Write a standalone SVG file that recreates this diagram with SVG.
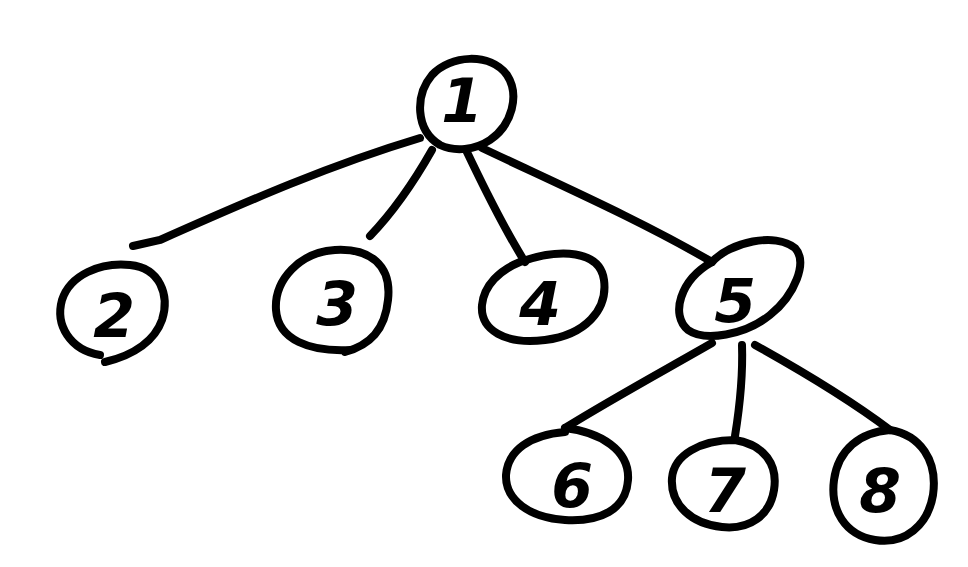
<svg xmlns="http://www.w3.org/2000/svg" width="968" height="567" viewBox="0 0 968 567">
<style>
.n{fill:none;stroke:#000;stroke-width:8;stroke-linecap:round;stroke-linejoin:round}
.e{fill:none;stroke:#000;stroke-width:8;stroke-linecap:round}
.t{font-family:"DejaVu Sans","Liberation Sans",sans-serif;font-size:60px;font-weight:bold;fill:#000;text-anchor:middle;font-style:italic}
</style>
<rect width="968" height="567" fill="#fff"/>
<g id="connectors">
<path class="e" d="M420,138 C330,165 250,200 160,240 L133,246"/>
<path class="e" d="M432,150 C415,180 395,210 370,236"/>
<path class="e" d="M466,150 C485,190 505,230 525,262"/>
<path class="e" d="M482,148 C560,185 640,220 712,262"/>
<path class="e" d="M712,343 C665,370 610,400 565,428"/>
<path class="e" d="M742,345 C743,375 740,405 735,436"/>
<path class="e" d="M755,345 C800,370 850,400 890,430"/>
</g>
<g id="node1">
<path class="n" d="M440,145 C415,130 415,95 432,75 C450,55 490,52 507,75 C520,95 512,125 490,140 C475,150 455,152 440,145 Z"/>
<text class="t" x="462" y="122">1</text>
</g>
<g id="node2">
<path class="n" d="M100,355 C70,350 55,325 62,300 C70,275 100,262 130,265 C160,268 170,295 162,320 C155,340 135,355 105,362"/>
<text class="t" x="114" y="337">2</text>
</g>
<g id="node3">
<path class="n" d="M350,350 C310,352 278,340 276,310 C274,280 300,252 335,250 C370,248 392,265 388,300 C385,330 370,345 345,352"/>
<text class="t" x="337" y="325">3</text>
</g>
<g id="node4">
<path class="n" d="M520,262 C560,248 600,250 604,280 C608,310 585,335 545,340 C505,345 480,330 482,305 C484,285 500,270 520,262"/>
<text class="t" x="540" y="325">4</text>
</g>
<g id="node5">
<path class="n" d="M712,262 C730,242 775,232 795,248 C808,262 795,295 770,315 C745,335 705,342 688,330 C670,315 680,280 712,262"/>
<text class="t" x="735" y="322">5</text>
</g>
<g id="node6">
<path class="n" d="M565,428 C600,432 630,450 628,480 C626,510 600,522 565,520 C530,518 505,500 506,475 C508,450 530,435 565,432"/>
<text class="t" x="572" y="507">6</text>
</g>
<g id="node7">
<path class="n" d="M735,440 C765,445 778,465 774,490 C770,515 750,530 722,527 C692,524 670,505 672,478 C674,455 700,440 735,440"/>
<text class="t" x="725" y="512">7</text>
</g>
<g id="node8">
<path class="n" d="M890,430 C920,435 938,460 933,495 C928,525 905,545 875,540 C845,535 830,510 834,480 C838,450 860,432 890,430"/>
<text class="t" x="880" y="512">8</text>
</g>
</svg>
